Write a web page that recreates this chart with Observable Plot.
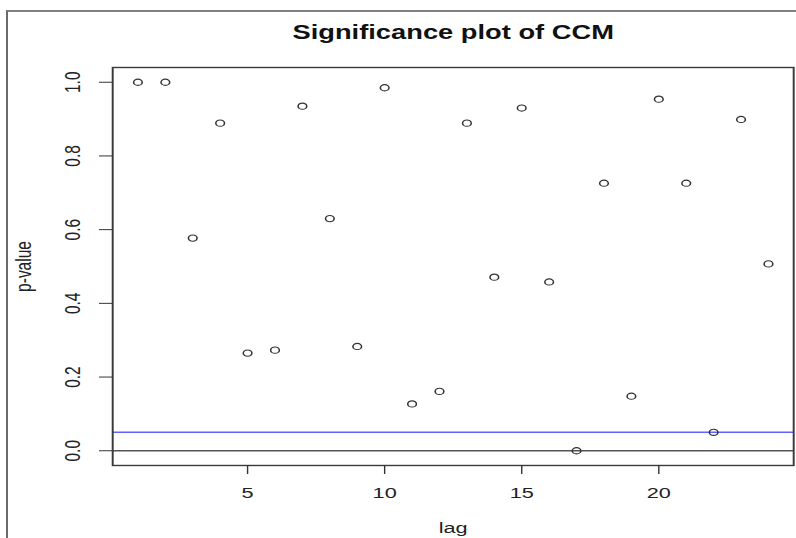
<!DOCTYPE html>
<html>
<head>
<meta charset="utf-8">
<script src="https://cdn.jsdelivr.net/npm/d3@7"></script>
<script src="https://cdn.jsdelivr.net/npm/@observablehq/plot@0.6"></script>
<style>
  html, body { margin: 0; padding: 0; background: #fff; width: 796px; height: 538px; overflow: hidden; }
  #chart { position: absolute; left: 0; top: 0; }
  #chart svg { display: block; transform: scaleX(1.4); transform-origin: 0 0; }
  #border { position: absolute; left: 6px; top: 10px; width: 800px; height: 540px;
            border-top: 2px solid #808080; border-left: 2px solid #6a6a6a; pointer-events: none; }
</style>
</head>
<body>
<div id="chart"></div>
<div id="border"></div>
<script>
const lags = [1,2,3,4,5,6,7,8,9,10,11,12,13,14,15,16,17,18,19,20,21,22,23,24];
const pValues = [1.0, 1.0, 0.577, 0.889, 0.265, 0.273, 0.935, 0.630, 0.283, 0.985, 0.127, 0.161,
                 0.889, 0.471, 0.930, 0.458, 0.0, 0.726, 0.148, 0.954, 0.726, 0.05, 0.899, 0.507];
const xTicks = [5, 10, 15, 20];
const yTicks = [0, 0.2, 0.4, 0.6, 0.8, 1.0];
const yTickLabels = ["0.0", "0.2", "0.4", "0.6", "0.8", "1.0"];
const refLines = [0.05];
const zeroLine = [0];
const title = "Significance plot of CCM";
const xLabel = "lag";
const yLabel = "p-value";

const data = lags.map((lag, i) => ({lag, p: pValues[i]}));
const yTickData = yTicks.map((v, i) => ({v, label: yTickLabels[i]}));

const S = 1.4;
const W = 796 / S;
const font = "'Liberation Sans', Arial, Helvetica, sans-serif";

const chart = Plot.plot({
  width: W,
  height: 538,
  marginLeft: 112 / S,
  marginRight: W - 793 / S,
  marginTop: 67,
  marginBottom: 73,
  x: {domain: [0.08, 24.92]},
  y: {domain: [-0.04, 1.04]},
  style: {fontFamily: font, background: "white", color: "#222", overflow: "visible"},
  marks: [
    Plot.ruleY(zeroLine, {stroke: "#555", strokeWidth: 1.5}),
    Plot.ruleY(refLines, {stroke: "#6262ff", strokeWidth: 1.6}),
    Plot.dot(data, {x: "lag", y: "p", r: 3.1, stroke: "#333", strokeWidth: 1.1, fill: "none"}),
    Plot.frame({stroke: "#3a3a3a", strokeWidth: 1.4}),
    Plot.axisX({ticks: xTicks, tickSize: 9, tickPadding: 13, fontSize: 15.5, stroke: "#333", fill: "#222", label: null}),
    Plot.axisY({ticks: yTicks, tickSize: 9.3, stroke: "#333", fill: "none", label: null}),
    Plot.text(yTickData, {y: "v", text: "label", frameAnchor: "left", dx: -28, rotate: -90,
      textAnchor: "middle", lineAnchor: "middle", fontSize: 15.5, fill: "#222"}),
    Plot.text([title], {frameAnchor: "top", dy: -28.5, lineAnchor: "bottom",
      fontWeight: "bold", fontSize: 19.5, fill: "#111"}),
    Plot.text([xLabel], {frameAnchor: "bottom", dy: 68, lineAnchor: "bottom",
      fontSize: 15.5, fill: "#222"}),
    Plot.text([yLabel], {frameAnchor: "left", dx: -63.5, rotate: -90,
      textAnchor: "middle", lineAnchor: "middle", fontSize: 15.5, fill: "#222"})
  ]
});
document.getElementById("chart").appendChild(chart);
</script>
</body>
</html>
